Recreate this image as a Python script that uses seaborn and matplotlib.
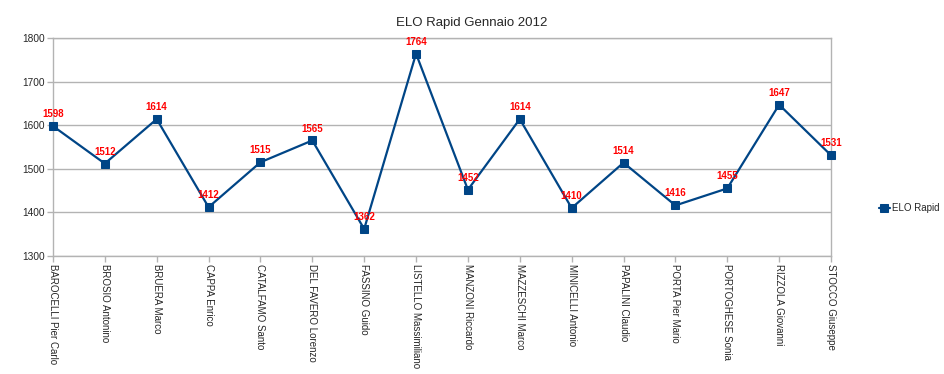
import matplotlib
matplotlib.use("Agg")
import matplotlib.pyplot as plt
import seaborn as sns
import pandas as pd

players = ["BAROCELLI Pier Carlo", "BROSIO Antonino", "BRUERA Marco", "CAPPA Enrico",
           "CATALFAMO Santo", "DEL FAVERO Lorenzo", "FASSINO Guido", "LISTELLO Massimiliano",
           "MANZONI Riccardo", "MAZZESCHI Marco", "MINICELLI Antonio", "PAPALINI Claudio",
           "PORTA Pier Mario", "PORTOGHESE Sonia", "RIZZOLA Giovanni", "STOCCO Giuseppe"]
elo = [1598, 1512, 1614, 1412, 1515, 1565, 1362, 1764, 1452, 1614, 1410, 1514, 1416, 1455, 1647, 1531]
yticks = [1300, 1400, 1500, 1600, 1700, 1800]

sns.set_theme(style="white")
plt.rcParams['font.family'] = ['Liberation Sans', 'DejaVu Sans']

df = pd.DataFrame({"idx": range(len(players)), "elo": elo})
color = "#004586"

fig = plt.figure(figsize=(9.44, 3.74), dpi=100)
ax = fig.add_axes([0.0561, 0.3155, 0.8242, 0.5829])
sns.lineplot(data=df, x="idx", y="elo", ax=ax, color=color, marker="s", markersize=6,
             markeredgecolor=color, linewidth=1.6, label="ELO Rapid", clip_on=False, zorder=3)

for i, v in enumerate(elo):
    ax.annotate(str(v), (i, v), xytext=(0, 5), textcoords="offset points",
                ha="center", va="bottom", color="red", fontsize=7, fontweight="bold")

ax.set_xlim(0, len(players) - 1)
ax.set_ylim(1300, 1800)
ax.set_yticks(yticks)
ax.set_xticks(range(len(players)))
ax.set_xticklabels(players, rotation=-90, fontsize=7, va="top", ha="center")
ax.set_yticklabels([str(t) for t in yticks], fontsize=7.3)
ax.set_xlabel("")
ax.set_ylabel("")
ax.grid(axis="y", color="#b3b3b3", linewidth=1)
ax.set_axisbelow(True)
for s in ax.spines.values():
    s.set_color("#b3b3b3")
    s.set_linewidth(1)
ax.tick_params(axis="both", direction="out", length=4, color="#b3b3b3", width=1, pad=2,
               bottom=True, left=True)

fig.suptitle("ELO Rapid Gennaio 2012", x=0.5, y=0.955, fontsize=9.5)

leg = ax.legend(loc="center left", bbox_to_anchor=(1.05, 0.22), frameon=False, fontsize=7,
                handlelength=1.2, handletextpad=0.2)

fig.savefig("out.png", dpi=100)
